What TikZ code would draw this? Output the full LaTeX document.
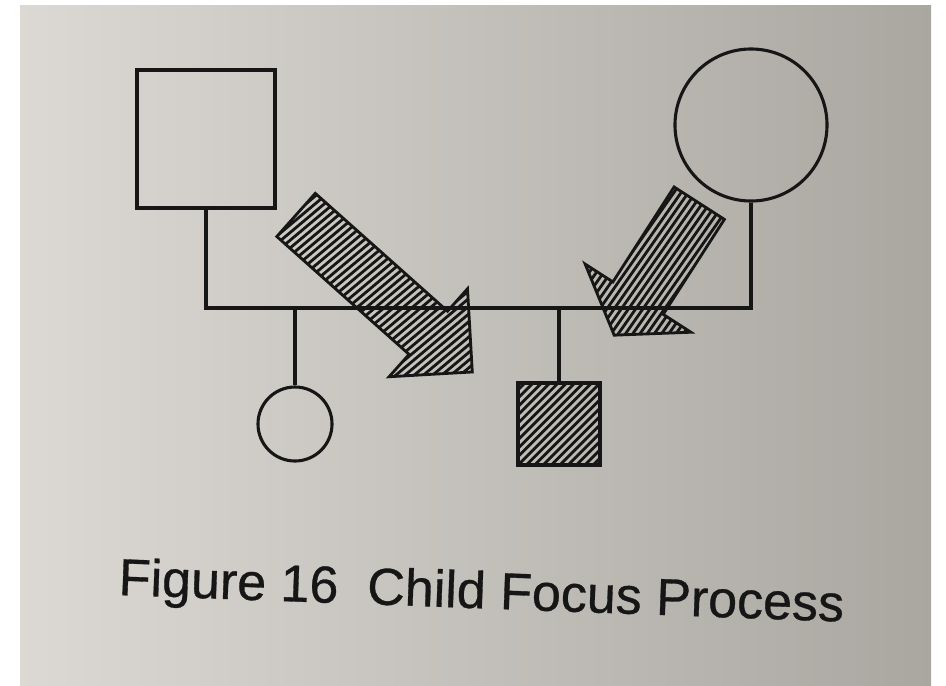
\documentclass[tikz,border=0pt]{standalone}
\usepackage{fontspec}
\setmainfont{Liberation Sans}[FakeBold=0.6]
\usetikzlibrary{shapes.arrows}

\definecolor{pagel}{HTML}{DCD9D4}
\definecolor{pagem}{HTML}{CFCCC6}
\definecolor{pager}{HTML}{A9A7A0}
\definecolor{ink}{HTML}{161616}

\begin{document}
\begin{tikzpicture}[x=0.025cm, y=-0.025cm, male/.style={draw=ink, rectangle, inner sep=0pt, line width=2.8pt}, female/.style={draw=ink, circle, inner sep=0pt, line width=2.2pt}, hatch/.style={path picture={\foreach \k in {-32,...,32} \draw[ink, line width=2pt] ([shift={(#1+90:\k*4.2pt)}]path picture bounding box.center) ++(#1:-6cm) -- ++(#1:12cm);}}, hatch/.default=45, focus/.style={draw=ink, single arrow, inner xsep=0pt, line width=2pt, anchor=tail}, n/.style={draw=ink, line width=2.4pt}]
            \useasboundingbox (0,0) rectangle (946,685);
            \fill[left color=pagel, middle color=pagem, right color=pager] (20,5) rectangle (931,685);
            % nodes
            \node[male, minimum size=3.45cm] (father) at (206,139) {};
            \node[female, minimum size=3.8cm] (mother) at (751,125) {};
            \coordinate (mline) at (0,308);

            \node[female, minimum size=1.85cm] (daughter) at (295,424) {};
            \node[male, hatch, minimum size=2.05cm] (child) at (559,424) {};

            % hatch angle is given in the arrow's own (rotated) frame
            \node[focus, hatch=81.7, inner ysep=0.6875cm, minimum height=5.9cm, single arrow head extend=0.75cm, single arrow tip angle=90, rotate=-41.7] (arrF) at (295,214) {};
            \node[focus, hatch=177.8, inner ysep=0.7125cm, minimum height=3.925cm, single arrow head extend=0.825cm, single arrow tip angle=110, rotate=-122.8] (arrM) at (700,202) {};

            \node[anchor=base west, rotate=-2.1, inner sep=0pt, text=ink, font=\fontsize{37}{44}\selectfont] (caption) at (118,595) {Figure 16\ \ Child Focus Process};
            % edges
            \draw[n] (father.south) -- (father.south |- mline) -- (mother.south |- mline) -- (mother.south);
            \draw[n] (daughter.north |- mline) -- (daughter.north);
            \draw[n] (child.north |- mline) -- (child.north);
        \end{tikzpicture}
\end{document}
